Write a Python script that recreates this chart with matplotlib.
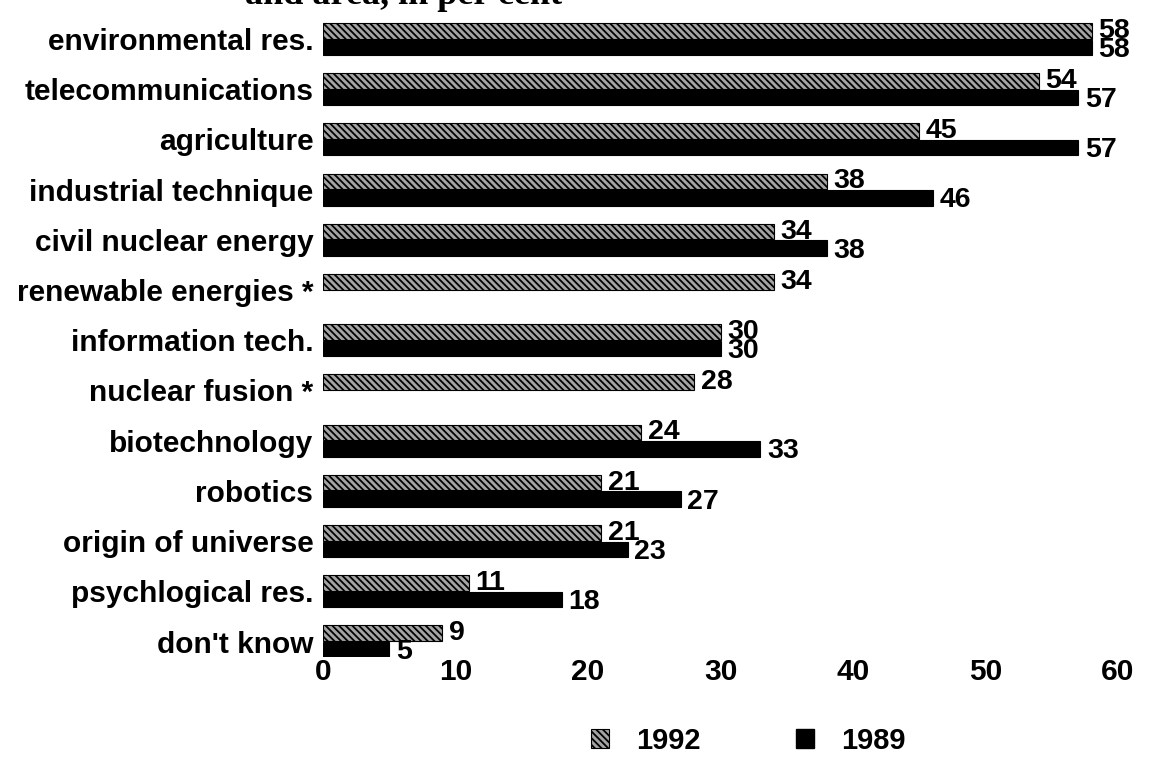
import matplotlib
matplotlib.use("Agg")
import matplotlib.pyplot as plt
import numpy as np
from matplotlib.patches import Patch

categories = ["environmental res.", "telecommunications", "agriculture",
              "industrial technique", "civil nuclear energy", "renewable energies *",
              "information tech.", "nuclear fusion *", "biotechnology", "robotics",
              "origin of universe", "psychlogical res.", "don't know"]
v1992 = [58, 54, 45, 38, 34, 34, 30, 28, 24, 21, 21, 11, 9]
v1989 = [58, 57, 57, 46, 38, None, 30, None, 33, 27, 23, 18, 5]
xticks = [0, 10, 20, 30, 40, 50, 60]
series_names = ["1992", "1989"]
title_fragment = "and area, in per cent"

SANS = ["Liberation Sans", "DejaVu Sans"]
HATCH = "\\\\\\\\\\"
plt.rcParams["hatch.linewidth"] = 1.3
plt.rcParams["hatch.color"] = "black"
HATCH_FACE = "#a4a4a4"

W, H = 1149, 759
fig = plt.figure(figsize=(W / 100, H / 100), dpi=100)
x0_px, x60_px = 323, 1118
ytop_px, ybot_px = 13.9, 656.6
ax = fig.add_axes([x0_px / W, 1 - ybot_px / H, (x60_px - x0_px) / W, (ybot_px - ytop_px) / H])
ax.set_xlim(0, 60)
ax.set_ylim(12.3, -0.5)

y = np.arange(len(categories))
h = 0.31
off = 0.165

ax.barh(y - off, v1992, height=h, color=HATCH_FACE, edgecolor="black",
        hatch=HATCH, linewidth=0.8)
idx = [i for i, v in enumerate(v1989) if v is not None]
ax.barh(y[idx] + off, [v1989[i] for i in idx], height=h, color="black",
        edgecolor="black", linewidth=0.8)

for i, v in enumerate(v1992):
    ax.text(v + 0.5, i - off, str(v), ha="left", va="center", fontsize=20.5,
            family=SANS, fontweight="bold")
for i in idx:
    v = v1989[i]
    ax.text(v + 0.5, i + off + 0.05, str(v), ha="left", va="center", fontsize=20.5,
            family=SANS, fontweight="bold")

ax.set_yticks(y)
ax.set_yticklabels(categories, family=SANS, fontweight="bold", fontsize=21.5)
ax.set_xticks(xticks)
ax.set_xticklabels([str(t) for t in xticks], family=SANS, fontweight="bold", fontsize=21.5)
ax.tick_params(axis="y", length=0, pad=7)
ax.tick_params(axis="x", length=0, pad=1)
for s in ax.spines.values():
    s.set_visible(False)

handles = [Patch(facecolor=HATCH_FACE, edgecolor="black", hatch=HATCH, linewidth=0.8),
           Patch(facecolor="black", edgecolor="black")]
fig.legend(handles, series_names, loc="center", bbox_to_anchor=(748.5 / W, 1 - 741 / H),
           ncol=2, frameon=False, borderpad=0, borderaxespad=0,
           handlelength=0.62, handleheight=0.62, handletextpad=0.93, columnspacing=3.27,
           prop={"family": SANS, "weight": "bold", "size": 21})

fig.text(245 / W, 1 - 4 / H, title_fragment, family=["Liberation Serif", "DejaVu Serif"],
         fontweight="bold", fontsize=26, ha="left", va="baseline")

fig.savefig("out.png", dpi=100)
